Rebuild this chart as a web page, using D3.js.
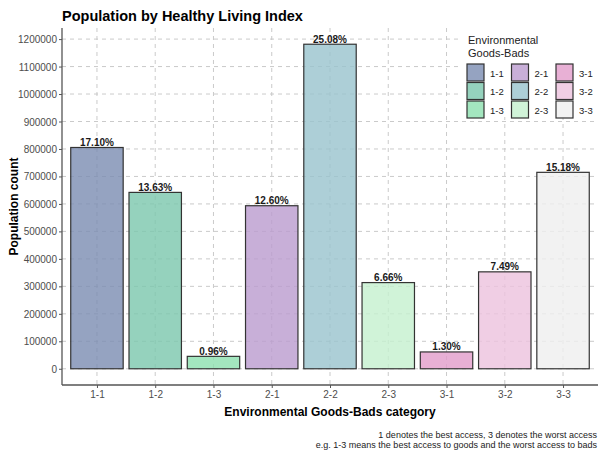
<!DOCTYPE html>
<html><head><meta charset="utf-8">
<script src="https://cdn.jsdelivr.net/npm/d3@7"></script>
<style>body{margin:0;background:#fff}svg{display:block;font-family:"Liberation Sans",Arial,sans-serif}</style>
</head><body><svg id="c" width="599" height="451"></svg>
<script>
const categories = ["1-1","1-2","1-3","2-1","2-2","2-3","3-1","3-2","3-3"];
const population = [805410, 641973, 45216, 593460, 1181268, 313686, 61230, 352779, 714978];
const percentLabels = ["17.10%","13.63%","0.96%","12.60%","25.08%","6.66%","1.30%","7.49%","15.18%"];
const fillColors = ["#7a8cb1","#7ac7ac","#8ce0af","#ba9bce","#98c3cd","#c4f0ce","#e29cca","#ecc2dd","#efefef"];
const yTicks = [0,100000,200000,300000,400000,500000,600000,700000,800000,900000,1000000,1100000,1200000];

const svg = d3.select("#c");
const L = 62, R = 598, T = 28, B = 385;
const maxV = d3.max(population);
const x = d3.scalePoint().domain(categories).range([L, R]).padding(0.6);
const y = d3.scaleLinear().domain([-0.05*maxV, maxV*1.05]).range([B, T]);
const bw = x.step()*0.9;
const color = d3.scaleOrdinal().domain(categories).range(fillColors);

// grid
const grid = svg.append("g").attr("stroke","#c4c4c4").attr("stroke-width",0.9).attr("stroke-dasharray","4,4");
grid.selectAll("line.h").data(yTicks).join("line").attr("x1",L).attr("x2",R).attr("y1",d=>y(d)).attr("y2",d=>y(d));
grid.selectAll("line.v").data(categories).join("line").attr("x1",d=>x(d)).attr("x2",d=>x(d)).attr("y1",T).attr("y2",B);

// bars
const data = categories.map((c,i)=>({c, v: population[i], p: percentLabels[i]}));
svg.append("g").selectAll("rect").data(data).join("rect")
  .attr("x",d=>x(d.c)-bw/2).attr("width",bw)
  .attr("y",d=>y(d.v)).attr("height",d=>y(0)-y(d.v))
  .attr("fill",d=>color(d.c)).attr("fill-opacity",0.8)
  .attr("stroke","#333").attr("stroke-width",1.2);
svg.append("g").selectAll("text").data(data).join("text")
  .attr("x",d=>x(d.c)).attr("y",d=>y(d.v)-1.5).attr("text-anchor","middle")
  .attr("font-size",10).attr("font-weight","bold").attr("fill","#1a1a1a").text(d=>d.p);

// axes
const yAxis = svg.append("g").attr("transform",`translate(${L},0)`).call(d3.axisLeft(y).tickValues(yTicks).tickSize(3).tickFormat(d3.format("d")));
const xAxis = svg.append("g").attr("transform",`translate(0,${B})`).call(d3.axisBottom(x).tickSize(3));
[yAxis,xAxis].forEach(a=>{
  a.select(".domain").remove();
  a.selectAll(".tick line").attr("stroke","#555");
  a.selectAll(".tick text").attr("fill","#4d4d4d").attr("font-size",10).attr("font-family","Liberation Sans, Arial, sans-serif");
});
yAxis.selectAll(".tick text").attr("x",-5).attr("dy","0.35em");
xAxis.selectAll(".tick text").attr("y",6);
svg.append("line").attr("x1",L).attr("x2",L).attr("y1",T).attr("y2",B).attr("stroke","#555").attr("stroke-width",1.3);
svg.append("line").attr("x1",L).attr("x2",R).attr("y1",B).attr("y2",B).attr("stroke","#555").attr("stroke-width",1.3);

// titles
svg.append("text").attr("x",L).attr("y",21).attr("font-size",14.5).attr("font-weight","bold").attr("fill","#000").text("Population by Healthy Living Index");
svg.append("text").attr("transform",`translate(18,${(T+B)/2}) rotate(-90)`).attr("text-anchor","middle").attr("font-size",12).attr("font-weight","bold").text("Population count");
svg.append("text").attr("x",(L+R)/2).attr("y",416).attr("text-anchor","middle").attr("font-size",12).attr("font-weight","bold").text("Environmental Goods-Bads category");
svg.append("text").attr("x",597).attr("y",438).attr("text-anchor","end").attr("font-size",9).attr("fill","#222").text("1 denotes the best access, 3 denotes the worst access");
svg.append("text").attr("x",597).attr("y",448).attr("text-anchor","end").attr("font-size",9).attr("fill","#222").text("e.g. 1-3 means the best access to goods and the worst access to bads");

// legend
const lg = svg.append("g");
lg.append("rect").attr("x",458).attr("y",T).attr("width",R-458).attr("height",89).attr("fill","#fff");
lg.append("text").attr("x",468).attr("y",44).attr("font-size",11).attr("fill","#222").text("Environmental");
lg.append("text").attr("x",468).attr("y",57).attr("font-size",11).attr("fill","#222").text("Goods-Bads");
categories.forEach((c,i)=>{
  const col = Math.floor(i/3), row = i%3;
  const kx = 467 + col*44.5, ky = 64 + row*18.5;
  lg.append("rect").attr("x",kx).attr("y",ky).attr("width",17).attr("height",17)
    .attr("fill",color(c)).attr("fill-opacity",0.8).attr("stroke","#333").attr("stroke-width",1.2);
  lg.append("text").attr("x",kx+23).attr("y",ky+12.5).attr("font-size",9.5).attr("fill","#222").text(c);
});
</script></body></html>
